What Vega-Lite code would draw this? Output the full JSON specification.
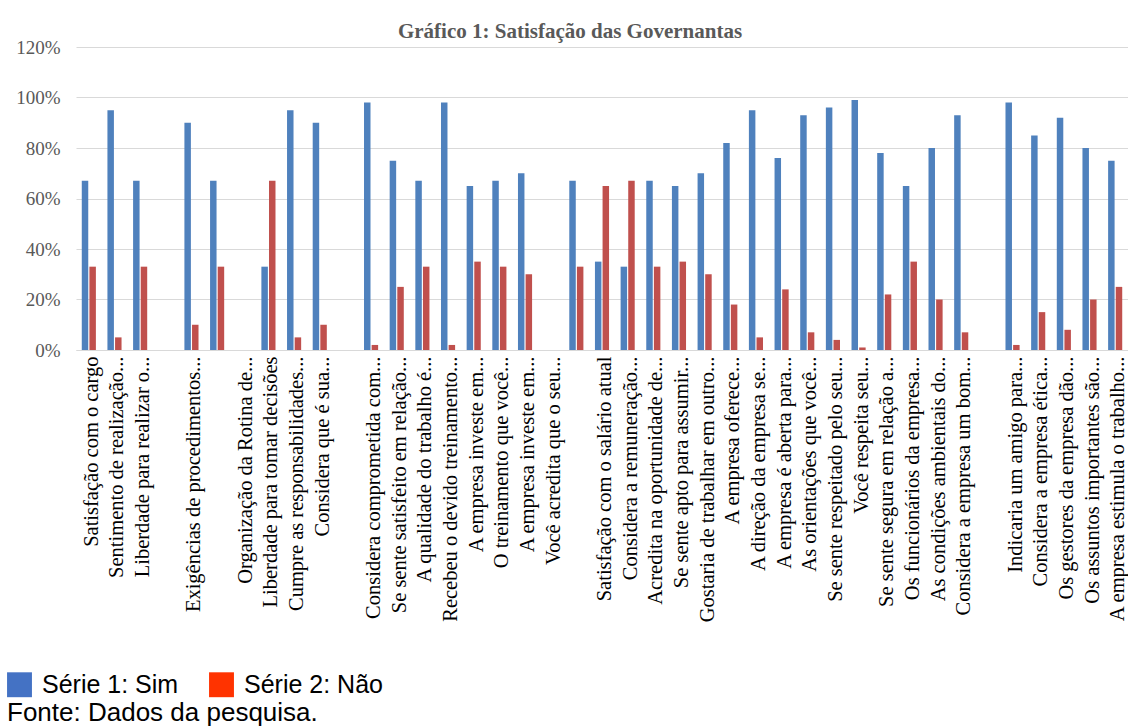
{
  "$schema": "https://vega.github.io/schema/vega-lite/v6.json",
  "width": 1052,
  "height": 303,
  "autosize": {"type": "none"},
  "padding": {"left": 76, "top": 47, "right": 0, "bottom": 376},
  "background": "white",
  "title": {"text": "Gráfico 1: Satisfação das Governantas", "font": "Liberation Serif", "fontSize": 21, "fontWeight": "bold", "color": "#595959", "anchor": "middle", "dx": -32, "offset": -4},
  "config": {"view": {"stroke": null}},
  "data": {"values": [
    {"q": "01|Satisfação com o cargo", "serie": "Série 1: Sim", "v": 0.67},
    {"q": "01|Satisfação com o cargo", "serie": "Série 2: Não", "v": 0.33},
    {"q": "02|Sentimento de realização...", "serie": "Série 1: Sim", "v": 0.95},
    {"q": "02|Sentimento de realização...", "serie": "Série 2: Não", "v": 0.05},
    {"q": "03|Liberdade para realizar o...", "serie": "Série 1: Sim", "v": 0.67},
    {"q": "03|Liberdade para realizar o...", "serie": "Série 2: Não", "v": 0.33},
    {"q": "05|Exigências de procedimentos...", "serie": "Série 1: Sim", "v": 0.90},
    {"q": "05|Exigências de procedimentos...", "serie": "Série 2: Não", "v": 0.10},
    {"q": "06|", "serie": "Série 1: Sim", "v": 0.67},
    {"q": "06|", "serie": "Série 2: Não", "v": 0.33},
    {"q": "08|Liberdade para tomar decisões", "serie": "Série 1: Sim", "v": 0.33},
    {"q": "08|Liberdade para tomar decisões", "serie": "Série 2: Não", "v": 0.67},
    {"q": "09|Cumpre as responsabilidades...", "serie": "Série 1: Sim", "v": 0.95},
    {"q": "09|Cumpre as responsabilidades...", "serie": "Série 2: Não", "v": 0.05},
    {"q": "10|Considera que é sua...", "serie": "Série 1: Sim", "v": 0.90},
    {"q": "10|Considera que é sua...", "serie": "Série 2: Não", "v": 0.10},
    {"q": "12|Considera comprometida com...", "serie": "Série 1: Sim", "v": 0.98},
    {"q": "12|Considera comprometida com...", "serie": "Série 2: Não", "v": 0.02},
    {"q": "13|Se sente satisfeito em relação...", "serie": "Série 1: Sim", "v": 0.75},
    {"q": "13|Se sente satisfeito em relação...", "serie": "Série 2: Não", "v": 0.25},
    {"q": "14|A qualidade do trabalho é...", "serie": "Série 1: Sim", "v": 0.67},
    {"q": "14|A qualidade do trabalho é...", "serie": "Série 2: Não", "v": 0.33},
    {"q": "15|Recebeu o devido treinamento...", "serie": "Série 1: Sim", "v": 0.98},
    {"q": "15|Recebeu o devido treinamento...", "serie": "Série 2: Não", "v": 0.02},
    {"q": "16|A empresa investe em...", "serie": "Série 1: Sim", "v": 0.65},
    {"q": "16|A empresa investe em...", "serie": "Série 2: Não", "v": 0.35},
    {"q": "17|O treinamento que você...", "serie": "Série 1: Sim", "v": 0.67},
    {"q": "17|O treinamento que você...", "serie": "Série 2: Não", "v": 0.33},
    {"q": "18|A empresa investe em...", "serie": "Série 1: Sim", "v": 0.70},
    {"q": "18|A empresa investe em...", "serie": "Série 2: Não", "v": 0.30},
    {"q": "20|", "serie": "Série 1: Sim", "v": 0.67},
    {"q": "20|", "serie": "Série 2: Não", "v": 0.33},
    {"q": "21|Satisfação com o salário atual", "serie": "Série 1: Sim", "v": 0.35},
    {"q": "21|Satisfação com o salário atual", "serie": "Série 2: Não", "v": 0.65},
    {"q": "22|Considera a remuneração...", "serie": "Série 1: Sim", "v": 0.33},
    {"q": "22|Considera a remuneração...", "serie": "Série 2: Não", "v": 0.67},
    {"q": "23|Acredita na oportunidade de...", "serie": "Série 1: Sim", "v": 0.67},
    {"q": "23|Acredita na oportunidade de...", "serie": "Série 2: Não", "v": 0.33},
    {"q": "24|Se sente apto para assumir...", "serie": "Série 1: Sim", "v": 0.65},
    {"q": "24|Se sente apto para assumir...", "serie": "Série 2: Não", "v": 0.35},
    {"q": "25|Gostaria de trabalhar em outro...", "serie": "Série 1: Sim", "v": 0.70},
    {"q": "25|Gostaria de trabalhar em outro...", "serie": "Série 2: Não", "v": 0.30},
    {"q": "26|A empresa oferece...", "serie": "Série 1: Sim", "v": 0.82},
    {"q": "26|A empresa oferece...", "serie": "Série 2: Não", "v": 0.18},
    {"q": "27|A direção da empresa se...", "serie": "Série 1: Sim", "v": 0.95},
    {"q": "27|A direção da empresa se...", "serie": "Série 2: Não", "v": 0.05},
    {"q": "28|A empresa é aberta para...", "serie": "Série 1: Sim", "v": 0.76},
    {"q": "28|A empresa é aberta para...", "serie": "Série 2: Não", "v": 0.24},
    {"q": "29|As orientações que você...", "serie": "Série 1: Sim", "v": 0.93},
    {"q": "29|As orientações que você...", "serie": "Série 2: Não", "v": 0.07},
    {"q": "30|Se sente respeitado pelo seu...", "serie": "Série 1: Sim", "v": 0.96},
    {"q": "30|Se sente respeitado pelo seu...", "serie": "Série 2: Não", "v": 0.04},
    {"q": "31|Você respeita seu...", "serie": "Série 1: Sim", "v": 0.99},
    {"q": "31|Você respeita seu...", "serie": "Série 2: Não", "v": 0.01},
    {"q": "32|Se sente segura em relação a...", "serie": "Série 1: Sim", "v": 0.78},
    {"q": "32|Se sente segura em relação a...", "serie": "Série 2: Não", "v": 0.22},
    {"q": "33|Os funcionários da empresa...", "serie": "Série 1: Sim", "v": 0.65},
    {"q": "33|Os funcionários da empresa...", "serie": "Série 2: Não", "v": 0.35},
    {"q": "34|As condições ambientais do...", "serie": "Série 1: Sim", "v": 0.80},
    {"q": "34|As condições ambientais do...", "serie": "Série 2: Não", "v": 0.20},
    {"q": "35|Considera a empresa um bom...", "serie": "Série 1: Sim", "v": 0.93},
    {"q": "35|Considera a empresa um bom...", "serie": "Série 2: Não", "v": 0.07},
    {"q": "37|Indicaria um amigo para...", "serie": "Série 1: Sim", "v": 0.98},
    {"q": "37|Indicaria um amigo para...", "serie": "Série 2: Não", "v": 0.02},
    {"q": "38|Considera a empresa ética...", "serie": "Série 1: Sim", "v": 0.85},
    {"q": "38|Considera a empresa ética...", "serie": "Série 2: Não", "v": 0.15},
    {"q": "39|Os gestores da empresa dão...", "serie": "Série 1: Sim", "v": 0.92},
    {"q": "39|Os gestores da empresa dão...", "serie": "Série 2: Não", "v": 0.08},
    {"q": "40|Os assuntos importantes são...", "serie": "Série 1: Sim", "v": 0.80},
    {"q": "40|Os assuntos importantes são...", "serie": "Série 2: Não", "v": 0.20},
    {"q": "41|A empresa estimula o trabalho...", "serie": "Série 1: Sim", "v": 0.75},
    {"q": "41|A empresa estimula o trabalho...", "serie": "Série 2: Não", "v": 0.25}
  ]},
  "encoding": {
    "x": {
      "field": "q", "type": "nominal",
      "scale": {
        "domain": ["01|Satisfação com o cargo", "02|Sentimento de realização...", "03|Liberdade para realizar o...", "04|", "05|Exigências de procedimentos...", "06|", "07|Organização da Rotina de...", "08|Liberdade para tomar decisões", "09|Cumpre as responsabilidades...", "10|Considera que é sua...", "11|", "12|Considera comprometida com...", "13|Se sente satisfeito em relação...", "14|A qualidade do trabalho é...", "15|Recebeu o devido treinamento...", "16|A empresa investe em...", "17|O treinamento que você...", "18|A empresa investe em...", "19|Você acredita que o seu...", "20|", "21|Satisfação com o salário atual", "22|Considera a remuneração...", "23|Acredita na oportunidade de...", "24|Se sente apto para assumir...", "25|Gostaria de trabalhar em outro...", "26|A empresa oferece...", "27|A direção da empresa se...", "28|A empresa é aberta para...", "29|As orientações que você...", "30|Se sente respeitado pelo seu...", "31|Você respeita seu...", "32|Se sente segura em relação a...", "33|Os funcionários da empresa...", "34|As condições ambientais do...", "35|Considera a empresa um bom...", "36|", "37|Indicaria um amigo para...", "38|Considera a empresa ética...", "39|Os gestores da empresa dão...", "40|Os assuntos importantes são...", "41|A empresa estimula o trabalho..."],
        "paddingInner": 0.45, "paddingOuter": 0.225
      },
      "axis": {"title": null, "labelAngle": -90, "labelExpr": "split(datum.value, '|')[1]", "labelFont": "Liberation Serif", "labelFontSize": 20.5, "labelColor": "#000000", "labelLimit": 0, "labelPadding": 6, "labelOffset": 3, "ticks": false, "domainColor": "#d9d9d9", "labelOverlap": false, "grid": false}
    },
    "xOffset": {"field": "serie", "type": "nominal", "scale": {"paddingInner": 0.15}},
    "y": {
      "field": "v", "type": "quantitative",
      "scale": {"domain": [0, 1.2], "nice": false},
      "axis": {"title": null, "format": ".0%", "values": [0, 0.2, 0.4, 0.6, 0.8, 1, 1.2], "labelFont": "Liberation Serif", "labelFontSize": 19, "labelColor": "#595959", "gridColor": "#d9d9d9", "domain": false, "ticks": false, "labelPadding": 16}
    }
  },
  "layer": [
    {
      "mark": {"type": "bar"},
      "encoding": {
        "color": {
          "field": "serie", "type": "nominal",
          "scale": {"domain": ["Série 1: Sim", "Série 2: Não"], "range": ["#4F81BD", "#C0504D"]},
          "legend": null
        }
      }
    },
    {
      "mark": {"type": "point", "filled": true, "size": 0},
      "encoding": {
        "color": {
          "field": "serie", "type": "nominal",
          "scale": {"domain": ["Série 1: Sim", "Série 2: Não"], "range": ["#4472C4", "#FF3300"]},
          "legend": {
            "orient": "none", "direction": "horizontal", "legendX": -69, "legendY": 625,
            "title": "Fonte: Dados da pesquisa.", "titleOrient": "bottom", "titleAnchor": "start", "titleLimit": 600,
            "titleFont": "Liberation Sans", "titleFontSize": 26, "titleFontWeight": "normal", "titleColor": "#000000", "titlePadding": 2,
            "labelFont": "Liberation Sans", "labelFontSize": 25, "labelColor": "#000000", "labelLimit": 0, "labelOffset": 10,
            "symbolType": "square", "symbolSize": 620, "symbolStrokeWidth": 0, "symbolOpacity": 1, "columnPadding": 30, "padding": 0
          }
        }
      }
    }
  ],
  "resolve": {"scale": {"color": "independent"}}
}
